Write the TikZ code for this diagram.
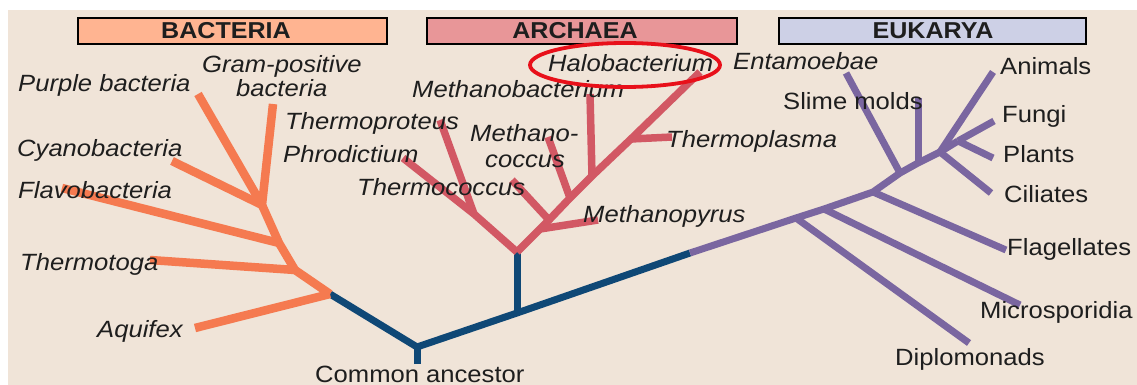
\documentclass[tikz,border=0pt]{standalone}
\usepackage{fontspec}
\setmainfont[FakeStretch=1.09]{Liberation Sans}
\definecolor{bg}{RGB}{240,228,216}
\definecolor{bact}{RGB}{245,122,80}
\definecolor{arch}{RGB}{210,88,100}
\definecolor{euk}{RGB}{122,102,160}
\definecolor{trunk}{RGB}{15,72,118}
\definecolor{bactfill}{RGB}{255,180,145}
\definecolor{archfill}{RGB}{232,150,152}
\definecolor{eukfill}{RGB}{205,208,230}
\definecolor{txt}{RGB}{30,30,30}
\definecolor{ring}{RGB}{232,16,26}
\tikzset{
  lab/.style={inner sep=0pt,anchor=base west,text=txt,font=\fontsize{23.5}{28}\selectfont},
  ilab/.style={lab,font=\fontsize{23.5}{28}\selectfont\itshape},
  titlebox/.style={draw=black,line width=1.8pt,inner sep=0pt,minimum height=26pt},
  titletext/.style={inner sep=0pt,text=txt,font=\fontsize{23}{28}\selectfont\bfseries},
  bbr/.style={draw=bact,line width=8.5pt,line join=round},
  abr/.style={draw=arch,line width=7.5pt,line join=round},
  ebr/.style={draw=euk,line width=7pt,line join=round},
  tbr/.style={draw=trunk,line width=7pt,line join=round},
}
\begin{document}
\begin{tikzpicture}[x=1pt,y=-1pt]
\useasboundingbox (0,0) rectangle (1137,385);
\fill[white] (0,0) rectangle (1137,385);
\fill[bg] (8,10) rectangle (1137,385);

% ---------- coordinates ----------
% trunk
\coordinate (anc) at (417,347);
\coordinate (ancbot) at (417,364);
\coordinate (arcbase) at (517,313);
% bacteria
\coordinate (bA) at (330,294);
\coordinate (bB) at (295,270);
\coordinate (bC) at (279,243);
\coordinate (bD) at (262,205);
\coordinate (tAqu) at (195,328);
\coordinate (tTmt) at (150,260);
\coordinate (tFla) at (62,188);
\coordinate (tCya) at (172,161);
\coordinate (tPur) at (198,94);
\coordinate (tGra) at (273,104);
% archaea
\coordinate (aR) at (517,252);
\coordinate (aL) at (474,214);
\coordinate (aMp) at (540,229);
\coordinate (aTc) at (549,220);
\coordinate (aMc) at (570,198);
\coordinate (aMb) at (592,176);
\coordinate (aTp) at (631,139);
\coordinate (tPhr) at (403,158);
\coordinate (tTpr) at (440,120);
\coordinate (tTcc) at (512,180);
\coordinate (tMcc) at (548,137);
\coordinate (tMbt) at (590,94);
\coordinate (tHal) at (700,72);
\coordinate (tTpl) at (672,137);
\coordinate (tMpy) at (598,220);
% eukarya
\coordinate (eP) at (690,253);
\coordinate (eDj) at (796,218);
\coordinate (eMs) at (824,209);
\coordinate (eFl) at (873,192);
\coordinate (eEn) at (900,173);
\coordinate (eSm) at (918,163);
\coordinate (eAc) at (940,152);
\coordinate (eFp) at (958,141);
\coordinate (tDip) at (969,343);
\coordinate (tMic) at (1020,305);
\coordinate (tFlg) at (1006,250);
\coordinate (tEnt) at (846,73);
\coordinate (tSli) at (918,98);
\coordinate (tAni) at (993,72);
\coordinate (tFun) at (994,121);
\coordinate (tPla) at (993,158);
\coordinate (tCil) at (991,193);

% ---------- title boxes ----------
\node[titlebox,fill=bactfill,minimum width=309pt] (bactbox) at (232.5,31) {};
\node[titlebox,fill=archfill,minimum width=310pt] (archbox) at (582,31) {};
\node[titlebox,fill=eukfill,minimum width=307pt] (eukbox) at (932.5,31) {};
\node[titletext] (bacttitle) at (226,31) {BACTERIA};
\node[titletext] (archtitle) at (575,31) {ARCHAEA};
\node[titletext] (euktitle) at (933,31) {EUKARYA};

% ---------- branches ----------
% trunk
\draw[tbr] (ancbot) -- (anc);
\draw[tbr] (anc) -- (bA);
\draw[tbr] (anc) -- (arcbase) -- (eP);
\draw[tbr] (arcbase) -- (aR);
% bacteria
\draw[bbr] (bA) -- (tAqu);
\draw[bbr] (bA) -- (bB) -- (bC) -- (bD);
\draw[bbr] (bB) -- (tTmt);
\draw[bbr] (bC) -- (tFla);
\draw[bbr] (bD) -- (tCya);
\draw[bbr] (bD) -- (tPur);
\draw[bbr] (bD) -- (tGra);
% archaea
\draw[abr] (aR) -- (aL) -- (tPhr);
\draw[abr] (aL) -- (tTpr);
\draw[abr] (aR) -- (aMp) -- (aTc) -- (aMc) -- (aMb) -- (aTp) -- (tHal);
\draw[abr] (aMp) -- (tMpy);
\draw[abr] (aTc) -- (tTcc);
\draw[abr] (aMc) -- (tMcc);
\draw[abr] (aMb) -- (tMbt);
\draw[abr] (aTp) -- (tTpl);
% eukarya
\draw[ebr] (eP) -- (eDj) -- (eMs) -- (eFl) -- (eEn) -- (eSm) -- (eAc) -- (eFp);
\draw[ebr] (eDj) -- (tDip);
\draw[ebr] (eMs) -- (tMic);
\draw[ebr] (eFl) -- (tFlg);
\draw[ebr] (eEn) -- (tEnt);
\draw[ebr] (eSm) -- (tSli);
\draw[ebr] (eAc) -- (tAni);
\draw[ebr] (eAc) -- (tCil);
\draw[ebr] (eFp) -- (tFun);
\draw[ebr] (eFp) -- (tPla);

% ---------- labels ----------
\node[ilab] (lPur) at (18,92) {Purple bacteria};
\node[ilab] (lGra1) at (202,73) {Gram-positive};
\node[ilab] (lGra2) at (236,97) {bacteria};
\node[ilab] (lCya) at (17,157) {Cyanobacteria};
\node[ilab] (lFla) at (18,198) {Flavobacteria};
\node[ilab] (lTmt) at (20,270) {Thermotoga};
\node[ilab] (lAqu) at (97,337) {Aquifex};

\node[ilab] (lTpr) at (285,129) {Thermoproteus};
\node[ilab] (lPhr) at (283,162) {Phrodictium};
\node[ilab] (lTcc) at (357,195) {Thermococcus};
\node[ilab] (lMcc1) at (470,142) {Methano-};
\node[ilab] (lMcc2) at (485,167) {coccus};
\node[ilab] (lMbt) at (412,98) {Methanobacterium};
\node[ilab] (lHal) at (548,72) {Halobacterium};
\node[ilab] (lTpl) at (666,147) {Thermoplasma};
\node[ilab] (lMpy) at (583,222) {Methanopyrus};

\node[ilab] (lEnt) at (733,70) {Entamoebae};
\node[lab] (lSli) at (783,110) {Slime molds};
\node[lab] (lAni) at (1000,75) {Animals};
\node[lab] (lFun) at (1002,123) {Fungi};
\node[lab] (lPla) at (1003,162) {Plants};
\node[lab] (lCil) at (1004,202) {Ciliates};
\node[lab] (lFlg) at (1007,255) {Flagellates};
\node[lab] (lMic) at (980,318) {Microsporidia};
\node[lab] (lDip) at (895,365) {Diplomonads};
\node[lab,text depth=0pt] (lAnc) at (315,382) {Common ancestor};

% highlight ring
\draw[ring,line width=3.8pt] (625,65) ellipse [x radius=95, y radius=22];
\end{tikzpicture}
\end{document}
